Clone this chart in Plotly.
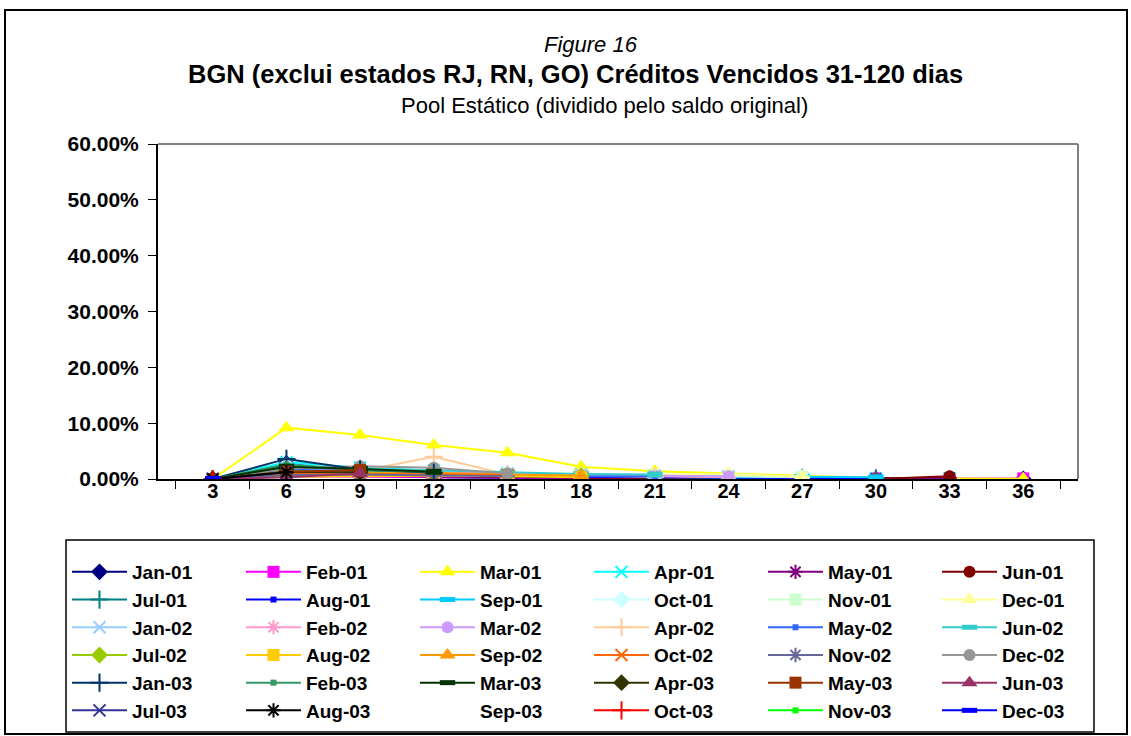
import plotly.graph_objects as go

months = ["3", "6", "9", "12", "15", "18", "21", "24", "27", "30", "33", "36"]

cohorts = ["Jan-01", "Feb-01", "Mar-01", "Apr-01", "May-01", "Jun-01",
           "Jul-01", "Aug-01", "Sep-01", "Oct-01", "Nov-01", "Dec-01",
           "Jan-02", "Feb-02", "Mar-02", "Apr-02", "May-02", "Jun-02",
           "Jul-02", "Aug-02", "Sep-02", "Oct-02", "Nov-02", "Dec-02",
           "Jan-03", "Feb-03", "Mar-03", "Apr-03", "May-03", "Jun-03",
           "Jul-03", "Aug-03", "Sep-03", "Oct-03", "Nov-03", "Dec-03"]

# values in percent, one list per cohort (months 3, 6, 9, ...)
jan01 = [0, 2.8, 1.2, 0.3, 0.2, 0.1, 0.1, 0.0, 0.0, 0.0, 0.0, 0.0]
feb01 = [0, 0.5, 0.4, 0.3, 0.2, 0.2, 0.1, 0.1, 0.1, 0.1, 0.1, 0.1]
mar01 = [0, 9.2, 7.9, 6.1, 4.7, 2.2, 1.4, 1.0, 0.5, 0.2, 0.1, 0.05]
apr01 = [0, 3.0, 2.0, 1.5, 1.0, 0.5, 0.3, 0.2, 0.1, 0.1, 0.1]
may01 = [0, 0.8, 0.6, 0.4, 0.3, 0.2, 0.2, 0.1, 0.1, 0.1, 0.2]
jun01 = [0, 1.0, 0.8, 0.6, 0.4, 0.3, 0.2, 0.1, 0.1, 0.0, 0.5]
jul01 = [0, 2.2, 1.8, 1.2, 0.8, 0.5, 0.3, 0.2, 0.2, 0.1]
aug01 = [0, 1.5, 1.0, 0.7, 0.5, 0.4, 0.3, 0.2, 0.1, 0.1]
sep01 = [0, 2.0, 1.6, 1.0, 0.9, 0.7, 0.5, 0.4, 0.4, 0.3]
oct01 = [0, 2.5, 1.9, 1.3, 1.0, 0.8, 0.6, 0.5, 0.3]
nov01 = [0, 1.6, 1.3, 1.0, 0.8, 0.6, 0.7, 0.6, 0.4]
dec01 = [0, 1.2, 1.0, 0.9, 0.7, 0.6, 0.8, 0.9, 0.4]
jan02 = [0, 1.8, 1.4, 1.1, 0.9, 0.8, 0.6, 0.4]
feb02 = [0, 0.6, 0.9, 1.0, 0.8, 0.6, 0.5, 0.3]
mar02 = [0, 1.3, 1.5, 1.2, 1.0, 0.7, 0.6, 0.5]
apr02 = [0, 1.0, 1.4, 4.0, 0.8, 0.6, 0.4]
may02 = [0, 1.7, 1.3, 0.9, 0.7, 0.5, 0.5]
jun02 = [0, 2.4, 1.9, 1.6, 1.2, 0.9, 0.8]
jul02 = [0, 1.4, 1.2, 0.9, 0.7, 0.6]
aug02 = [0, 0.4, 0.5, 0.6, 0.5, 0.3]
sep02 = [0, 0.9, 1.0, 1.1, 0.8, 0.6]
oct02 = [0, 1.1, 0.9, 0.8, 0.7]
nov02 = [0, 0.7, 0.8, 0.6, 0.5]
dec02 = [0, 1.9, 2.3, 2.0, 1.0]
jan03 = [0, 3.6, 1.7, 1.1]
feb03 = [0, 2.6, 1.6, 1.3]
mar03 = [0, 2.2, 1.8, 1.3]
apr03 = [0, 1.3, 1.2]
may03 = [0, 1.3, 1.6]
jun03 = [0, 0.3, 1.0]
jul03 = [0, 1.2]
aug03 = [0, 1.2]
sep03 = [0, 0.8]
oct03 = [0]
nov03 = [0]
dec03 = [0]

series = [jan01, feb01, mar01, apr01, may01, jun01, jul01, aug01, sep01,
          oct01, nov01, dec01, jan02, feb02, mar02, apr02, may02, jun02,
          jul02, aug02, sep02, oct02, nov02, dec02, jan03, feb03, mar03,
          apr03, may03, jun03, jul03, aug03, sep03, oct03, nov03, dec03]

colors = ["#000080", "#FF00FF", "#FFFF00", "#00FFFF", "#800080", "#800000",
          "#008080", "#0000FF", "#00CCFF", "#CCFFFF", "#CCFFCC", "#FFFF99",
          "#99CCFF", "#FF99CC", "#CC99FF", "#FFCC99", "#3366FF", "#33CCCC",
          "#99CC00", "#FFCC00", "#FF9900", "#FF6600", "#666699", "#969696",
          "#003366", "#339966", "#003300", "#333300", "#993300", "#993366",
          "#333399", "#000000", None, "#FF0000", "#00FF00", "#0000FF"]

marker_cycle = ["diamond", "square", "triangle", "x", "star", "circle",
                "plus", "smallsq", "dash"]

fig = go.Figure()
for i, (name, vals) in enumerate(zip(cohorts, series)):
    col = colors[i]
    kind = marker_cycle[i % len(marker_cycle)]
    y = [v / 100 for v in vals]
    x = months[:len(vals)]
    if col is None:
        fig.add_trace(go.Scatter(x=x, y=y, name=name, mode="lines",
                                 line=dict(color="rgba(0,0,0,0)", width=2)))
        continue
    if kind == "diamond":
        mk = dict(symbol="diamond", size=13, color=col)
    elif kind == "square":
        mk = dict(symbol="square", size=12, color=col)
    elif kind == "triangle":
        mk = dict(symbol="triangle-up", size=14, color=col)
    elif kind == "x":
        mk = dict(symbol="x-thin-open", size=12, line=dict(color=col, width=2))
    elif kind == "star":
        mk = dict(symbol="asterisk-open", size=12, line=dict(color=col, width=2))
    elif kind == "circle":
        mk = dict(symbol="circle", size=12, color=col)
    elif kind == "plus":
        mk = dict(symbol="cross-thin-open", size=13, line=dict(color=col, width=2))
    elif kind == "smallsq":
        mk = dict(symbol="square", size=6, color=col)
    else:
        mk = dict(symbol="line-ew-open", size=11, line=dict(color=col, width=6))
    fig.add_trace(go.Scatter(x=x, y=y, name=name, mode="lines+markers",
                             line=dict(color=col, width=2), marker=mk))

L, R, T, B = 158, 1078, 144, 479
W, H = 1131, 736
pw, ph = R - L, B - T


def px(xp):
    return (xp - L) / pw


def py(yp):
    return (B - yp) / ph


tfont = "Liberation Sans, Arial, sans-serif"
shapes = [
    dict(type="line", xref="paper", yref="paper", x0=0, x1=1, y0=1, y1=1,
         line=dict(color="#808080", width=2)),
    dict(type="line", xref="paper", yref="paper", x0=1, x1=1, y0=0, y1=1,
         line=dict(color="#808080", width=2)),
    dict(type="rect", xref="paper", yref="paper", x0=px(5), x1=px(1127),
         y0=py(734), y1=py(10), line=dict(color="black", width=2)),
    dict(type="rect", xref="paper", yref="paper", x0=px(66), x1=px(1094),
         y0=py(732), y1=py(540), line=dict(color="black", width=1.5)),
]

annotations = [
    dict(text="<i>Figure 16</i>", x=px(591), y=py(45), xref="paper", yref="paper",
         showarrow=False, font=dict(family=tfont, size=22, color="black"),
         xanchor="center", yanchor="middle"),
    dict(text="<b>BGN (exclui estados RJ, RN, GO) Créditos Vencidos 31-120 dias</b>",
         x=px(575), y=py(74), xref="paper", yref="paper", showarrow=False,
         font=dict(family=tfont, size=25.5, color="black"),
         xanchor="center", yanchor="middle"),
    dict(text="Pool Estático (dividido pelo saldo original)", x=px(604), y=py(105),
         xref="paper", yref="paper", showarrow=False,
         font=dict(family=tfont, size=22, color="black"),
         xanchor="center", yanchor="middle"),
]

fig.update_layout(
    width=W, height=H, autosize=False,
    margin=dict(l=L, r=W - R, t=T, b=H - B, pad=0, autoexpand=False),
    paper_bgcolor="white", plot_bgcolor="white",
    shapes=shapes, annotations=annotations,
    showlegend=True,
    legend=dict(orientation="h", xref="paper", yref="paper",
                x=px(67), y=py(553), xanchor="left", yanchor="top",
                borderwidth=0, bgcolor="rgba(0,0,0,0)",
                entrywidth=104, entrywidthmode="pixels", itemwidth=55,
                font=dict(family=tfont, size=19, color="black", weight="bold"),
                traceorder="normal"),
    xaxis=dict(type="category", categoryorder="array", categoryarray=months,
               tickson="boundaries", ticks="outside", ticklen=8, tickwidth=1,
               tickcolor="black", showline=True, linecolor="black", linewidth=2,
               showgrid=False, zeroline=False, automargin=False,
               ticklabelstandoff=-7,
               tickfont=dict(family=tfont, size=20, color="black", weight="bold")),
    yaxis=dict(range=[0, 0.6], dtick=0.1, tickformat=".2%", ticks="outside",
               ticklen=8, tickwidth=1, tickcolor="black", showline=True,
               linecolor="black", linewidth=2, showgrid=False, zeroline=False,
               ticklabelstandoff=5, automargin=False,
               tickfont=dict(family=tfont, size=21, color="black", weight="bold")),
)

fig.write_html("out.html", include_plotlyjs=True, full_html=True,
               config={"displayModeBar": False},
               post_script="document.body.style.margin='0';")
